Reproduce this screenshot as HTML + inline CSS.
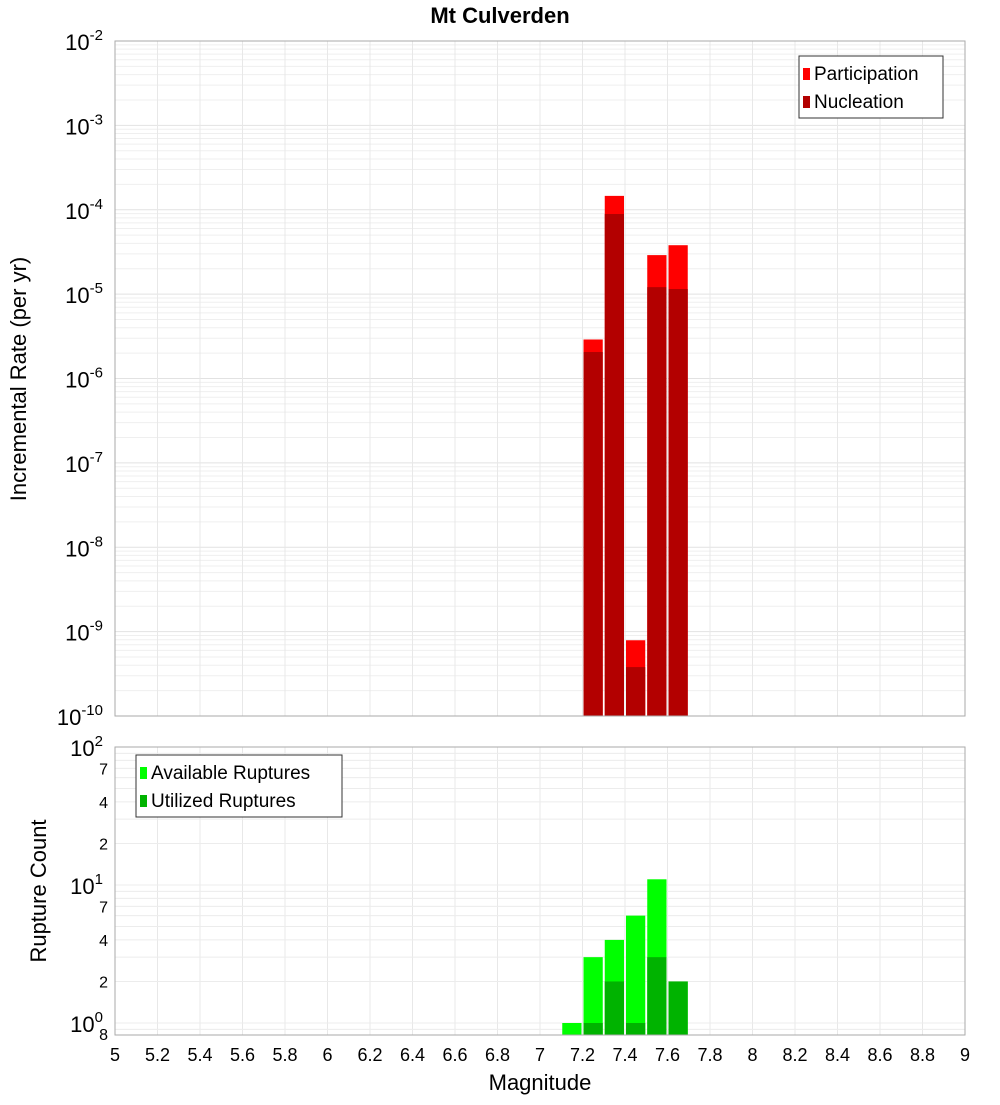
<!DOCTYPE html>
<html><head><meta charset="utf-8"><style>
body{margin:0;background:#fff;}
svg text{font-family:"Liberation Sans","DejaVu Sans",sans-serif;fill:#000;}
</style></head><body>
<svg id="c" width="1000" height="1100" xmlns="http://www.w3.org/2000/svg">
<text x="500" y="23" text-anchor="middle" font-size="22" font-weight="bold">Mt Culverden</text>
<g id="g"></g>
</svg>
<script>
const mags=[7.15,7.25,7.35,7.45,7.55,7.65];
const participation=[0,2.9e-6,1.46e-4,7.9e-10,2.9e-5,3.8e-5];
const nucleation=[0,2.06e-6,8.9e-5,3.8e-10,1.21e-5,1.15e-5];
const available=[1,3,4,6,11,2];
const utilized=[0,1,2,1,3,2];
const xTicks=[5,5.2,5.4,5.6,5.8,6,6.2,6.4,6.6,6.8,7,7.2,7.4,7.6,7.8,8,8.2,8.4,8.6,8.8,9];
const topExps=[-2,-3,-4,-5,-6,-7,-8,-9,-10];
const botMinor=[2,4,7];

const NS="http://www.w3.org/2000/svg";
const g=document.getElementById('g');
function mk(t,a,txt){const e=document.createElementNS(NS,t);for(const k in a)e.setAttribute(k,a[k]);if(txt!==undefined)e.textContent=txt;g.appendChild(e);return e;}
const X0=115,X1=965;
const x=m=>X0+(m-5)/4*(X1-X0);
const T0=41,T1=716; const yT=v=>T0+(-2-Math.log10(v))/8*(T1-T0);
const B0=747,B1=1035; const PD=138; const yB=v=>B0+(2-Math.log10(v))*PD;
const bw=(x(5.1)-x(5));

// top grid
for(let d=-10;d<-2;d++){for(let k=1;k<10;k++){const y=yT(k*Math.pow(10,d));
 let l=mk('line',{x1:X0,x2:X1,y1:y,y2:y,stroke:k==1?'#e2e2e2':'#efefef','stroke-width':1});
 }}
for(const t of xTicks){let l=mk('line',{x1:x(t),x2:x(t),y1:T0,y2:T1,stroke:'#e8e8e8'});
 let l2=mk('line',{x1:x(t),x2:x(t),y1:B0,y2:B1,stroke:'#e8e8e8'});}
// bottom grid
for(let d=-1;d<2;d++){for(let k=1;k<10;k++){const v=k*Math.pow(10,d);const y=yB(v);if(y>B1)continue;
 let l=mk('line',{x1:X0,x2:X1,y1:y,y2:y,stroke:'#ececec'});}}

// top bars
mags.forEach((m,i)=>{
 if(participation[i]>0){let r=mk('rect',{x:x(m)-bw/2+1,y:yT(participation[i]),width:bw-2,height:T1-yT(participation[i]),fill:'#ff0000'});}
 if(nucleation[i]>0){let r=mk('rect',{x:x(m)-bw/2+1,y:yT(nucleation[i]),width:bw-2,height:T1-yT(nucleation[i]),fill:'#b30000'});}
 if(available[i]>0){let r=mk('rect',{x:x(m)-bw/2+1,y:yB(available[i]),width:bw-2,height:B1-yB(available[i]),fill:'#00ff00'});}
 if(utilized[i]>0){let r=mk('rect',{x:x(m)-bw/2+1,y:yB(utilized[i]),width:bw-2,height:B1-yB(utilized[i]),fill:'#00b300'});}
});

// frames
let f1=mk('rect',{x:X0,y:T0,width:X1-X0,height:T1-T0,fill:'none',stroke:'#aaa'});
let f2=mk('rect',{x:X0,y:B0,width:X1-X0,height:B1-B0,fill:'none',stroke:'#aaa'});

// top y labels
for(const e of topExps){const y=yT(Math.pow(10,e));
 let t=mk('text',{x:103,y:y+9,'text-anchor':'end','font-size':22});
 t.innerHTML='10<tspan dy="-10" font-size="15">'+e+'</tspan>';}
// bottom y labels
[[100,'2'],[10,'1'],[1,'0']].forEach(([v,e])=>{const y=yB(v);
 let t=mk('text',{x:103,y:y+9,'text-anchor':'end','font-size':22});
 t.innerHTML='10<tspan dy="-10" font-size="15">'+e+'</tspan>';});
for(let d=0;d<2;d++)for(const k of botMinor){const y=yB(k*Math.pow(10,d));
 let t=mk('text',{x:108,y:y+6,'text-anchor':'end','font-size':16},String(k));}
let t8=mk('text',{x:108,y:1040,'text-anchor':'end','font-size':16},'8');

// x labels
for(const v of xTicks){let t=mk('text',{x:x(v),y:1061,'text-anchor':'middle','font-size':18},String(v));}
let xt=mk('text',{x:540,y:1090,'text-anchor':'middle','font-size':22},'Magnitude');
let yt1=mk('text',{x:0,y:0,'text-anchor':'middle','font-size':22,transform:'translate(26,379) rotate(-90)'},'Incremental Rate (per yr)');
let yt2=mk('text',{x:0,y:0,'text-anchor':'middle','font-size':22,transform:'translate(46,891) rotate(-90)'},'Rupture Count');

// legends
function legend(x0,y0,w,items,name){let b=mk('rect',{x:x0,y:y0,width:w,height:62,fill:'#fff',stroke:'#333'});
 items.forEach(([c,l],i)=>{let s=mk('rect',{x:x0+4,y:y0+12+i*28,width:7,height:12,fill:c});
 let t=mk('text',{x:x0+15,y:y0+24+i*28,'font-size':19},l);});}
legend(799,56,144,[['#ff0000','Participation'],['#b30000','Nucleation']],'top-legend');
legend(136,755,206,[['#00ff00','Available Ruptures'],['#00b300','Utilized Ruptures']],'bottom-legend');
</script>
</body></html>
